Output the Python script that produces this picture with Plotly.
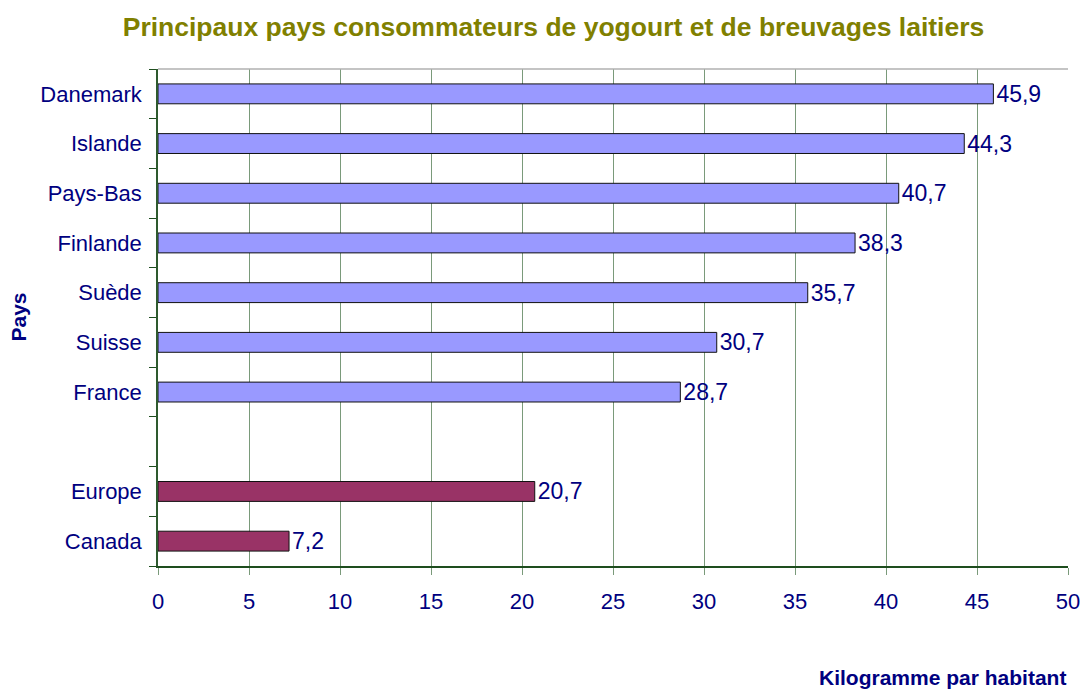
import plotly.graph_objects as go

# Data (top to bottom as shown)
countries = ["Danemark", "Islande", "Pays-Bas", "Finlande", "Suède", "Suisse", "France", " ", "Europe", "Canada"]
values = [45.9, 44.3, 40.7, 38.3, 35.7, 30.7, 28.7, None, 20.7, 7.2]
groups = ["pays", "pays", "pays", "pays", "pays", "pays", "pays", "vide", "reference", "reference"]
x_ticks = [0, 5, 10, 15, 20, 25, 30, 35, 40, 45, 50]

color_map = {"pays": "#9999FF", "reference": "#993366", "vide": "#FFFFFF"}
colors = [color_map[g] for g in groups]

NAVY = "#000080"
FONT = "Liberation Sans, Arial, sans-serif"

W, H = 1084, 690
L, R, T, B = 158, 16, 69, 124
PW, PH = W - L - R, H - T - B

fig = go.Figure()
fig.add_trace(go.Bar(
    y=countries,
    x=values,
    orientation="h",
    marker=dict(color=colors, line=dict(color="#111111", width=1)),
    texttemplate="%{x:.1f}",
    textposition="outside",
    constraintext="none",
    textfont=dict(family=FONT, size=23, color=NAVY),
    cliponaxis=False,
    hoverinfo="x+y",
))

fig.update_layout(
    width=W, height=H,
    paper_bgcolor="white", plot_bgcolor="white",
    margin=dict(l=L, r=R, t=T, b=B, autoexpand=False),
    bargap=0.6,
    separators=", ",
    showlegend=False,
    font=dict(family=FONT, size=22, color=NAVY),
    title=dict(
        text="<b>Principaux pays consommateurs de yogourt et de breuvages laitiers</b>",
        font=dict(family=FONT, size=26.5, color="#808000"),
        x=553.5 / W, xanchor="center", xref="container",
        y=1 - 27 / H, yanchor="middle", yref="container",
    ),
    xaxis=dict(
        range=[0, 50], tickvals=x_ticks, ticktext=[str(v) for v in x_ticks],
        showgrid=True, gridcolor="#7A9A7A", gridwidth=1,
        showline=True, linecolor="#1E4D1E", linewidth=1.5,
        ticks="outside", ticklen=7, tickcolor="#7A9A7A",
        tickfont=dict(family=FONT, size=22, color=NAVY),
        ticklabelstandoff=8,
        zeroline=False, fixedrange=True, automargin=False,
    ),
    yaxis=dict(
        type="category",
        categoryorder="array", categoryarray=list(reversed(countries)),
        range=[-0.5, len(countries) - 0.5],
        tickson="boundaries",
        ticks="outside", ticklen=7, tickcolor="#1E4D1E",
        showline=True, linecolor="#2E5A2E", linewidth=1.5,
        showgrid=False,
        tickfont=dict(family=FONT, size=22, color=NAVY),
        ticklabelstandoff=10,
        fixedrange=True, automargin=False,
    ),
    shapes=[dict(type="line", xref="paper", yref="paper", x0=0, x1=1, y0=1, y1=1,
                 line=dict(color="#B0B0B0", width=1.5))],
    annotations=[
        dict(text="<b>Kilogramme par habitant</b>", xref="paper", yref="paper",
             x=1, y=-111 / PH, xanchor="right", yanchor="middle",
             showarrow=False, font=dict(family=FONT, size=21, color=NAVY)),
        dict(text="<b>Pays</b>", xref="paper", yref="paper",
             x=(18 - L) / PW, y=0.5, xanchor="center", yanchor="middle",
             textangle=-90, showarrow=False, font=dict(family=FONT, size=21, color=NAVY)),
    ],
)

fig.write_html(
    "out.html",
    config={"displayModeBar": False},
    post_script="document.body.style.margin='0';document.body.style.overflow='hidden';",
)
